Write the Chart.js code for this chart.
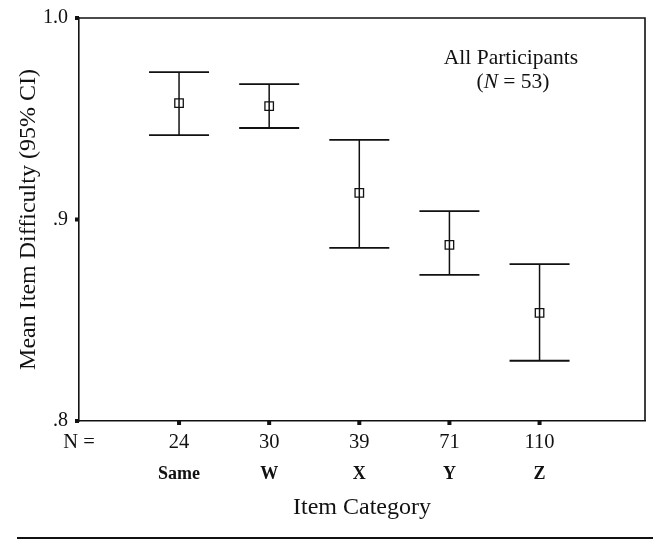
<!DOCTYPE html>
<html>
<head>
<meta charset="utf-8">
<script src="https://cdn.jsdelivr.net/npm/chart.js@4.4.1/dist/chart.umd.min.js"></script>
<style>
  html, body { margin: 0; padding: 0; background: #fff; }
  #wrap { width: 653px; height: 540px; }
</style>
</head>
<body>
<div id="wrap"><canvas id="myChart"></canvas></div>
<script>
// data
const categories = ['Same', 'W', 'X', 'Y', 'Z'];
const counts = ['24', '30', '39', '71', '110'];
const means = [0.9578, 0.9563, 0.9132, 0.8874, 0.8537];
const upper = [0.9731, 0.9672, 0.9395, 0.9042, 0.8779];
const lower = [0.9419, 0.9454, 0.8859, 0.8725, 0.8299];
const yTicks = [0.8, 0.9, 1.0];
const yTickLabels = ['.8', '.9', '1.0'];

const ink = '#111';
const serif = '"Liberation Serif", "Times New Roman", serif';
const xMin = -0.11, xMax = 6.17;

// error bars, frame, tick squares, note and bottom rule
const extras = {
    id: 'extras',
    beforeDatasetsDraw(chart) {
        const {ctx, chartArea: a, scales: {x, y}} = chart;
        ctx.save();
        ctx.strokeStyle = ink;
        ctx.fillStyle = ink;

        // frame
        ctx.lineWidth = 1.6;
        ctx.beginPath();
        ctx.moveTo(a.left, a.top);
        ctx.lineTo(a.right, a.top);
        ctx.lineTo(a.right, a.bottom);
        ctx.stroke();

        // tick squares
        yTicks.forEach(v => {
            const py = y.getPixelForValue(v);
            ctx.fillRect(a.left - 4, py - 2, 4, 4);
        });
        categories.forEach((c, i) => {
            const px = x.getPixelForValue(i + 1);
            ctx.fillRect(px - 2, a.bottom, 4, 4);
        });

        // CI bars
        const half = 30;
        categories.forEach((c, i) => {
            const px = x.getPixelForValue(i + 1);
            const pt = y.getPixelForValue(upper[i]);
            const pb = y.getPixelForValue(lower[i]);
            ctx.lineWidth = 1.5;
            ctx.beginPath();
            ctx.moveTo(px, pt);
            ctx.lineTo(px, pb);
            ctx.stroke();
            ctx.lineWidth = 1.8;
            ctx.beginPath();
            ctx.moveTo(px - half, pt);
            ctx.lineTo(px + half, pt);
            ctx.moveTo(px - half, pb);
            ctx.lineTo(px + half, pb);
            ctx.stroke();
        });

        // note
        ctx.textBaseline = 'middle';
        ctx.textAlign = 'center';
        ctx.font = '21.5px ' + serif;
        ctx.fillText('All Participants', 511, 58);
        const parts = [['(', '21.5px '], ['N', 'italic 21.5px '], [' = 53)', '21.5px ']];
        let total = 0;
        parts.forEach(p => { ctx.font = p[1] + serif; total += ctx.measureText(p[0]).width; });
        let cx = 513 - total / 2;
        ctx.textAlign = 'left';
        parts.forEach(p => {
            ctx.font = p[1] + serif;
            ctx.fillText(p[0], cx, 82);
            cx += ctx.measureText(p[0]).width;
        });

        // bottom rule
        ctx.lineWidth = 2;
        ctx.beginPath();
        ctx.moveTo(17, 538);
        ctx.lineTo(653, 538);
        ctx.stroke();
        ctx.restore();
    }
};

const ctx = document.getElementById('myChart').getContext('2d');

const myChart = new Chart(ctx, {
    type: 'scatter',
    data: {
        datasets: [{
            label: 'Mean',
            data: means.map((m, i) => ({x: i + 1, y: m})),
            pointStyle: 'rect',
            pointRadius: 6,
            pointHoverRadius: 6,
            borderWidth: 1.3,
            borderColor: ink,
            backgroundColor: 'rgba(0,0,0,0)'
        }]
    },
    options: {
        responsive: true,
        maintainAspectRatio: false,
        animation: false,
        layout: { padding: { left: 0, right: 8, top: 18, bottom: 17 } },
        plugins: {
            legend: { display: false },
            tooltip: { enabled: false }
        },
        scales: {
            x: {
                type: 'linear',
                position: 'bottom',
                weight: 0,
                min: xMin,
                max: xMax,
                grid: { display: false },
                border: { display: true, color: ink, width: 1.6 },
                afterBuildTicks: s => {
                    s.ticks = [{value: xMin}].concat(counts.map((c, i) => ({value: i + 1})));
                },
                afterFit: s => { s.height = 34; },
                ticks: {
                    autoSkip: false,
                    maxRotation: 0,
                    padding: 1,
                    color: ink,
                    font: { family: serif, size: 20.5 },
                    callback: (v, i) => i === 0 ? 'N =' : counts[i - 1]
                }
            },
            x2: {
                type: 'linear',
                position: 'bottom',
                weight: 1,
                min: xMin,
                max: xMax,
                grid: { display: false },
                border: { display: false },
                afterBuildTicks: s => {
                    s.ticks = categories.map((c, i) => ({value: i + 1}));
                },
                afterFit: s => { s.height = 68; },
                ticks: {
                    autoSkip: false,
                    maxRotation: 0,
                    padding: 1,
                    color: ink,
                    font: { family: serif, size: 18, weight: 'bold' },
                    callback: (v, i) => categories[i]
                },
                title: {
                    display: true,
                    text: 'Item Category',
                    color: ink,
                    font: { family: serif, size: 24 },
                    padding: { top: 0, bottom: 1 }
                }
            },
            y: {
                min: 0.8,
                max: 1.0,
                grid: { display: false },
                border: { display: true, color: ink, width: 1.6 },
                afterBuildTicks: s => {
                    s.ticks = yTicks.map(v => ({value: v}));
                },
                afterFit: s => { s.width = 79; },
                ticks: {
                    padding: 3,
                    color: ink,
                    font: { family: serif, size: 20 },
                    callback: (v, i) => yTickLabels[i]
                },
                title: {
                    display: true,
                    text: 'Mean Item Difficulty (95% CI)',
                    color: ink,
                    font: { family: serif, size: 24 },
                    padding: { top: 14, bottom: 0 }
                }
            }
        }
    },
    plugins: [extras]
});
</script>
</body>
</html>
